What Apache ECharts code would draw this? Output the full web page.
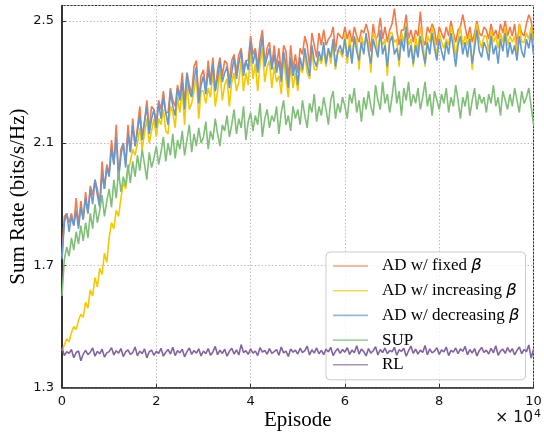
<!DOCTYPE html>
<html>
<head>
<meta charset="utf-8">
<script src="https://cdn.jsdelivr.net/npm/echarts@6/dist/echarts.min.js"></script>
<style>html,body{margin:0;padding:0;background:#fff}#c{width:544px;height:433px}</style>
</head>
<body>
<div id="c"></div>
<script>
// x positions: episodes in units of 10^4, one sample every 500 episodes
const X_STEP = 0.05;

const fixedBeta = [
1.73,1.86,1.87,1.84,1.87,1.83,1.92,1.83,1.91,1.85,
1.94,1.87,1.96,1.93,1.98,1.95,1.90,2.04,1.95,2.03,
2.00,2.11,2.03,2.16,1.99,2.08,2.10,2.03,2.16,2.07,
2.18,2.09,2.15,2.22,2.12,2.17,2.24,2.14,2.22,2.21,
2.17,2.24,2.21,2.27,2.20,2.20,2.28,2.24,2.22,2.29,
2.25,2.33,2.23,2.33,2.29,2.26,2.35,2.37,2.24,2.32,
2.34,2.27,2.37,2.30,2.38,2.27,2.34,2.38,2.32,2.37,
2.36,2.30,2.37,2.39,2.33,2.39,2.41,2.34,2.37,2.37,
2.45,2.39,2.41,2.35,2.43,2.47,2.36,2.41,2.43,2.35,
2.42,2.35,2.41,2.33,2.42,2.40,2.31,2.42,2.34,2.39,
2.33,2.41,2.39,2.45,2.42,2.35,2.46,2.42,2.38,2.46,
2.42,2.47,2.42,2.44,2.45,2.48,2.40,2.46,2.45,2.44,
2.48,2.44,2.47,2.43,2.48,2.45,2.43,2.47,2.46,2.49,
2.46,2.40,2.49,2.44,2.45,2.51,2.44,2.48,2.43,2.47,
2.49,2.54,2.47,2.42,2.47,2.47,2.52,2.44,2.47,2.43,
2.47,2.45,2.53,2.44,2.42,2.48,2.46,2.49,2.47,2.42,
2.48,2.46,2.44,2.48,2.45,2.50,2.46,2.43,2.47,2.48,
2.52,2.48,2.44,2.48,2.43,2.46,2.50,2.46,2.45,2.48,
2.47,2.44,2.49,2.45,2.47,2.44,2.49,2.46,2.50,2.45,
2.48,2.45,2.49,2.42,2.49,2.46,2.45,2.49,2.52,2.50,
2.44];

const increasingBeta = [
1.42,1.44,1.46,1.45,1.48,1.50,1.49,1.52,1.54,1.53,
1.58,1.56,1.62,1.60,1.66,1.63,1.69,1.67,1.74,1.71,
1.79,1.84,1.82,1.88,1.86,1.92,1.97,1.95,2.01,2.04,
2.08,2.06,2.10,2.15,2.08,2.13,2.18,2.10,2.14,2.18,
2.12,2.18,2.16,2.21,2.14,2.13,2.22,2.20,2.15,2.25,
2.20,2.28,2.16,2.30,2.21,2.23,2.27,2.32,2.18,2.27,
2.27,2.23,2.28,2.25,2.34,2.22,2.27,2.34,2.24,2.29,
2.31,2.22,2.30,2.33,2.27,2.30,2.37,2.27,2.33,2.29,
2.40,2.31,2.36,2.27,2.36,2.41,2.30,2.35,2.37,2.28,
2.35,2.30,2.32,2.26,2.38,2.31,2.25,2.36,2.28,2.33,
2.27,2.35,2.33,2.39,2.33,2.31,2.40,2.34,2.34,2.38,
2.36,2.41,2.35,2.41,2.36,2.43,2.34,2.40,2.40,2.38,
2.46,2.36,2.45,2.37,2.44,2.44,2.34,2.45,2.42,2.44,
2.43,2.33,2.46,2.45,2.39,2.45,2.42,2.44,2.32,2.46,
2.46,2.43,2.44,2.35,2.46,2.43,2.49,2.42,2.44,2.35,
2.45,2.40,2.48,2.44,2.35,2.45,2.43,2.48,2.44,2.38,
2.46,2.43,2.41,2.44,2.42,2.48,2.45,2.38,2.44,2.48,
2.42,2.45,2.42,2.46,2.34,2.44,2.49,2.44,2.41,2.45,
2.45,2.40,2.47,2.43,2.45,2.41,2.46,2.43,2.48,2.42,
2.45,2.43,2.45,2.39,2.49,2.43,2.43,2.46,2.44,2.48,
2.42];

const decreasingBeta = [
1.72,1.84,1.87,1.81,1.86,1.83,1.88,1.82,1.89,1.85,
1.92,1.87,1.95,1.90,1.98,1.93,1.89,2.00,1.95,2.02,
1.99,2.08,2.03,2.12,1.98,2.06,2.10,2.02,2.13,2.07,
2.16,2.09,2.14,2.19,2.11,2.17,2.22,2.13,2.18,2.21,
2.15,2.23,2.18,2.25,2.20,2.16,2.27,2.22,2.19,2.28,
2.24,2.30,2.21,2.33,2.27,2.25,2.31,2.35,2.23,2.29,
2.32,2.26,2.34,2.29,2.36,2.27,2.31,2.37,2.30,2.33,
2.35,2.28,2.33,2.38,2.31,2.36,2.40,2.32,2.37,2.34,
2.43,2.36,2.40,2.33,2.39,2.45,2.35,2.38,2.41,2.34,
2.39,2.33,2.37,2.30,2.40,2.35,2.28,2.38,2.32,2.36,
2.29,2.38,2.34,2.41,2.36,2.32,2.42,2.37,2.35,2.40,
2.37,2.43,2.36,2.41,2.38,2.44,2.35,2.40,2.42,2.39,
2.44,2.38,2.42,2.36,2.45,2.40,2.37,2.43,2.39,2.46,
2.40,2.36,2.44,2.41,2.38,2.47,2.39,2.42,2.35,2.43,
2.45,2.39,2.41,2.37,2.44,2.40,2.48,2.38,2.42,2.36,
2.42,2.38,2.45,2.40,2.36,2.43,2.39,2.46,2.41,2.37,
2.44,2.40,2.37,2.43,2.39,2.46,2.41,2.35,2.42,2.45,
2.39,2.43,2.38,2.44,2.36,2.41,2.47,2.40,2.38,2.43,
2.41,2.37,2.45,2.39,2.42,2.36,2.44,2.40,2.46,2.38,
2.43,2.39,2.42,2.37,2.45,2.40,2.38,2.44,2.41,2.46,
2.39];

const sup = [
1.60,1.72,1.76,1.73,1.79,1.75,1.81,1.77,1.83,1.78,
1.84,1.79,1.87,1.82,1.90,1.84,1.88,1.93,1.86,1.91,
1.95,1.89,1.98,1.92,2.01,1.94,1.99,1.96,2.03,1.97,
2.04,1.99,2.06,2.01,2.08,2.03,1.98,2.07,2.02,2.05,
2.09,2.03,2.07,2.12,2.04,2.10,2.06,2.13,2.05,2.11,
2.08,2.14,2.06,2.11,2.16,2.07,2.13,2.09,2.15,2.10,
2.12,2.17,2.08,2.14,2.11,2.18,2.13,2.09,2.16,2.14,
2.19,2.12,2.16,2.21,2.13,2.18,2.15,2.22,2.11,2.17,
2.20,2.14,2.19,2.16,2.23,2.12,2.18,2.21,2.15,2.19,
2.17,2.22,2.13,2.20,2.24,2.16,2.19,2.14,2.22,2.18,
2.21,2.16,2.24,2.19,2.15,2.23,2.20,2.26,2.17,2.22,
2.19,2.25,2.21,2.16,2.24,2.27,2.18,2.23,2.20,2.25,
2.22,2.18,2.26,2.23,2.28,2.20,2.24,2.17,2.25,2.21,
2.27,2.22,2.19,2.29,2.24,2.21,2.30,2.23,2.26,2.20,
2.25,2.32,2.23,2.27,2.19,2.28,2.24,2.30,2.22,2.26,
2.23,2.28,2.21,2.25,2.30,2.22,2.26,2.19,2.27,2.24,
2.21,2.26,2.23,2.28,2.20,2.25,2.22,2.29,2.24,2.18,
2.25,2.22,2.27,2.19,2.24,2.28,2.21,2.26,2.23,2.25,
2.20,2.26,2.23,2.29,2.22,2.25,2.19,2.27,2.24,2.21,
2.26,2.22,2.28,2.24,2.20,2.27,2.23,2.25,2.28,2.22,
2.16];

const rl = [
1.430,1.405,1.418,1.412,1.425,1.398,1.415,1.420,1.388,1.410,
1.422,1.408,1.416,1.430,1.403,1.419,1.411,1.426,1.400,1.414,
1.418,1.431,1.407,1.421,1.413,1.428,1.402,1.417,1.424,1.409,
1.415,1.433,1.404,1.420,1.411,1.427,1.398,1.418,1.423,1.406,
1.419,1.412,1.429,1.403,1.416,1.425,1.410,1.432,1.405,1.421,
1.414,1.426,1.401,1.418,1.430,1.409,1.422,1.413,1.427,1.404,
1.420,1.411,1.428,1.406,1.417,1.435,1.408,1.423,1.412,1.426,
1.403,1.419,1.429,1.410,1.424,1.407,1.441,1.415,1.421,1.409,
1.427,1.413,1.420,1.405,1.431,1.416,1.422,1.410,1.428,1.412,
1.418,1.425,1.406,1.433,1.414,1.420,1.402,1.427,1.416,1.423,
1.410,1.429,1.415,1.421,1.436,1.407,1.424,1.413,1.430,1.411,
1.422,1.408,1.426,1.417,1.432,1.405,1.419,1.428,1.412,1.425,
1.416,1.431,1.409,1.423,1.414,1.437,1.410,1.426,1.418,1.404,
1.428,1.413,1.421,1.434,1.407,1.425,1.415,1.430,1.411,1.422,
1.417,1.432,1.406,1.424,1.419,1.429,1.403,1.421,1.436,1.412,
1.426,1.410,1.423,1.415,1.438,1.408,1.427,1.414,1.420,1.431,
1.409,1.424,1.417,1.433,1.405,1.422,1.416,1.430,1.411,1.427,
1.419,1.435,1.408,1.425,1.413,1.428,1.404,1.421,1.432,1.415,
1.423,1.410,1.429,1.414,1.437,1.406,1.420,1.426,1.412,1.431,
1.416,1.428,1.407,1.422,1.433,1.411,1.425,1.418,1.440,1.397,
1.425];

const seriesNames = ['AD w/ fixed β', 'AD w/ increasing β', 'AD w/ decreasing β', 'SUP', 'RL'];
const seriesValues = [fixedBeta, increasingBeta, decreasingBeta, sup, rl];
const seriesColors = ['#f47a4a', '#f5c800', '#6699cc', '#80bf78', '#8064a2'];

const xTicks = [0, 2, 4, 6, 8, 10];
const yTicks = [1.3, 1.7, 2.1, 2.5];

function toPairs(vals) { return vals.map((v, i) => [+(i * X_STEP).toFixed(2), v]); }

const chart = echarts.init(document.getElementById('c'), null, { renderer: 'canvas' });
const serif = 'Liberation Serif';
const sans = 'DejaVu Sans';

chart.setOption({
  animation: false,
  backgroundColor: '#fff',
  grid: { left: 62, right: 10.5, top: 5.5, bottom: 45.3, outerBoundsMode: 'none', containLabel: false,
    show: true, borderColor: '#333', borderWidth: 1, backgroundColor: 'transparent' },
  xAxis: {
    type: 'value', min: 0, max: 10, interval: 2,
    name: 'Episode', nameLocation: 'middle', nameGap: 22, nameMoveOverlap: false,
    nameTextStyle: { fontFamily: serif, fontSize: 21, color: '#000', verticalAlign: 'top' },
    axisLine: { show: true, onZero: false, lineStyle: { color: '#333', width: 1.5 } },
    axisTick: { show: true, inside: true, length: 4, lineStyle: { color: '#333' } },
    axisLabel: { fontFamily: sans, fontSize: 13, color: '#111', margin: 7,
      formatter: v => xTicks.includes(v) ? String(v) : '' },
    splitLine: { show: true, lineStyle: { type: [1.5, 2], color: '#bdbdbd', width: 1 } }
  },
  yAxis: {
    type: 'value', min: 1.3, max: 2.55, interval: 0.4,
    name: 'Sum Rate (bits/s/Hz)', nameLocation: 'middle', nameGap: 33, nameMoveOverlap: false,
    nameTextStyle: { fontFamily: serif, fontSize: 21, color: '#000' },
    axisLine: { show: true, onZero: false, lineStyle: { color: '#111', width: 1.5 } },
    axisTick: { show: true, inside: true, length: 4, lineStyle: { color: '#333' } },
    axisLabel: { fontFamily: sans, fontSize: 13, color: '#111', margin: 8, showMaxLabel: false,
      formatter: v => yTicks.some(t => Math.abs(t - v) < 1e-6) ? v.toFixed(1) : '' },
    splitLine: { show: true, lineStyle: { type: [1.5, 2], color: '#bdbdbd', width: 1 } }
  },
  legend: {
    orient: 'vertical', left: 326, top: 252,
    icon: 'rect', itemWidth: 35, itemHeight: 1.6, itemGap: 6.7,
    padding: [5, 6, 6, 7],
    backgroundColor: 'rgba(255,255,255,0.82)', borderColor: '#cccccc', borderWidth: 1, borderRadius: 4,
    itemStyle: { opacity: 0.7 },
    data: seriesNames,
    formatter: n => n.replace('β', '{b|β}'),
    textStyle: {
      fontFamily: serif, fontSize: 17, color: '#000', lineHeight: 18, padding: [0, 0, 0, 9],
      rich: { b: { fontFamily: sans, fontStyle: 'italic', fontSize: 16.5, color: '#000' } }
    }
  },
  graphic: [{
    type: 'text', right: 3, top: 409,
    style: {
      text: '{a|× 10}{s|4}',
      rich: { a: { fontFamily: sans, fontSize: 15.5, fill: '#111' }, s: { fontFamily: sans, fontSize: 11, fill: '#111', verticalAlign: 'top', padding: [0, 0, 6, 1] } }
    }
  }],
  series: seriesNames.map((n, k) => ({
    name: n, type: 'line', data: toPairs(seriesValues[k]),
    showSymbol: false, symbol: 'none', smooth: false,
    lineStyle: { color: seriesColors[k], width: 1.6 },
    itemStyle: { color: seriesColors[k] },
    emphasis: { disabled: true }, z: 2 + k
  }))
});
</script>
</body>
</html>
